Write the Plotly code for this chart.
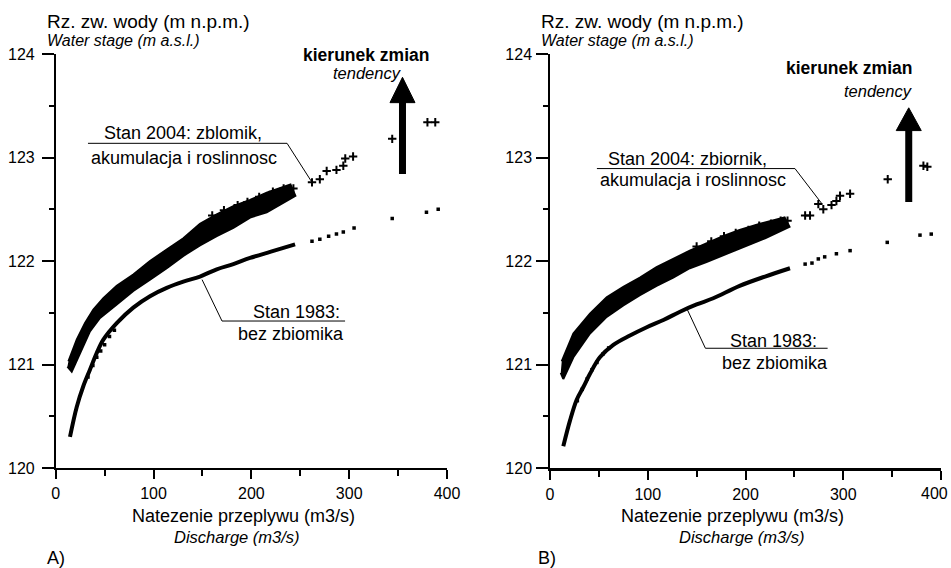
import plotly.graph_objects as go

# ---------------- DATA ----------------
# Panel A
a_band_up_q = [13, 21.5, 30, 38.5, 48.7, 62.4, 79.3, 96.4, 113.5, 130.5, 147.5, 164.6, 181.6, 198.7, 215.7, 240]
a_band_up_h = [121.03, 121.24, 121.40, 121.53, 121.64, 121.76, 121.87, 122.00, 122.11, 122.22, 122.36, 122.45, 122.53, 122.59, 122.66, 122.74]
a_band_lo_q = [12, 16.4, 24.8, 35, 45.3, 62.4, 79.3, 96.4, 113.5, 130.5, 147.5, 164.6, 181.6, 198.7, 215.7, 245]
a_band_lo_h = [120.98, 120.93, 121.11, 121.32, 121.45, 121.58, 121.71, 121.82, 121.93, 122.05, 122.15, 122.24, 122.32, 122.42, 122.47, 122.63]
a_2004_pts_q = [160, 172, 186, 196, 208, 222, 233, 243, 262, 270, 277, 287, 294, 296, 304, 344, 380, 388]
a_2004_pts_h = [122.44, 122.49, 122.54, 122.57, 122.62, 122.67, 122.70, 122.70, 122.76, 122.79, 122.87, 122.88, 122.92, 122.99, 123.01, 123.18, 123.34, 123.34]
a_1983_q = [14.6, 21.5, 28.2, 35, 41.9, 48.7, 62.4, 79.3, 96.4, 113.5, 130.5, 147.5, 164.6, 181.6, 198.7, 220, 244.7]
a_1983_h = [120.30, 120.59, 120.79, 120.95, 121.11, 121.24, 121.40, 121.55, 121.66, 121.74, 121.80, 121.85, 121.92, 121.97, 122.03, 122.09, 122.16]
a_1983_pts_q = [33, 38, 42, 46, 50, 55, 60, 262, 270, 279, 287, 294, 305, 344, 379, 391]
a_1983_pts_h = [120.88, 120.99, 121.07, 121.13, 121.19, 121.27, 121.33, 122.19, 122.21, 122.24, 122.26, 122.28, 122.32, 122.41, 122.47, 122.50]

# Panel B
b_band_up_q = [12, 23.9, 40.9, 58, 75, 92, 109, 126, 143, 160, 177, 194, 215, 240]
b_band_up_h = [121.03, 121.30, 121.49, 121.65, 121.75, 121.84, 121.94, 122.02, 122.10, 122.17, 122.24, 122.30, 122.36, 122.42]
b_band_lo_q = [11, 13.6, 23.9, 40.9, 58, 75, 92, 109, 126, 143, 160, 177, 194, 220, 245]
b_band_lo_h = [120.92, 120.86, 121.07, 121.30, 121.46, 121.57, 121.67, 121.76, 121.84, 121.93, 121.99, 122.05, 122.12, 122.22, 122.33]
b_2004_pts_q = [150, 165, 178, 190, 203, 214, 226, 236, 243, 261, 266, 274.5, 279.6, 288, 293, 296.7, 307, 345.5, 382, 386]
b_2004_pts_h = [122.14, 122.19, 122.24, 122.27, 122.30, 122.34, 122.36, 122.39, 122.39, 122.44, 122.44, 122.55, 122.50, 122.54, 122.58, 122.63, 122.65, 122.79, 122.92, 122.91]
b_1983_q = [13.6, 20.5, 27.3, 34, 40.9, 51, 64.8, 81.8, 99, 116, 133, 150, 167, 194, 220, 245.5]
b_1983_h = [120.21, 120.46, 120.66, 120.78, 120.91, 121.07, 121.19, 121.28, 121.36, 121.43, 121.51, 121.58, 121.64, 121.76, 121.85, 121.93]
b_1983_pts_q = [28, 33, 38, 43, 48, 54, 60, 261, 268, 274.5, 281, 293, 307, 345, 378.5, 390]
b_1983_pts_h = [120.65, 120.76, 120.86, 120.95, 121.02, 121.10, 121.16, 121.97, 121.98, 122.02, 122.04, 122.07, 122.10, 122.18, 122.25, 122.26]

x_ticks = [0, 100, 200, 300, 400]
x_tick_labels = ["0", "100", "200", "300", "400"]
y_ticks = [120, 121, 122, 123, 124]

FONT = "Liberation Sans, Arial, sans-serif"
W, H = 951, 568

fig = go.Figure()

def add_panel(xa, ya, up_q, up_h, lo_q, lo_h, p04q, p04h, q83, h83, p83q, p83h):
    poly_q = up_q + lo_q[::-1]
    poly_h = up_h + lo_h[::-1]
    fig.add_trace(go.Scatter(x=poly_q, y=poly_h, xaxis=xa, yaxis=ya, mode="lines",
                             fill="toself", fillcolor="black",
                             line=dict(color="black", width=2), hoverinfo="skip", showlegend=False))
    fig.add_trace(go.Scatter(x=p04q, y=p04h, xaxis=xa, yaxis=ya, mode="markers",
                             marker=dict(symbol="cross-thin", size=6, line=dict(color="black", width=2)),
                             showlegend=False))
    fig.add_trace(go.Scatter(x=q83, y=h83, xaxis=xa, yaxis=ya, mode="lines",
                             line=dict(color="black", width=4, shape="spline"), showlegend=False))
    fig.add_trace(go.Scatter(x=p83q, y=p83h, xaxis=xa, yaxis=ya, mode="markers",
                             marker=dict(symbol="square", size=3.5, color="black"),
                             showlegend=False))

add_panel("x", "y", a_band_up_q, a_band_up_h, a_band_lo_q, a_band_lo_h,
          a_2004_pts_q, a_2004_pts_h, a_1983_q, a_1983_h, a_1983_pts_q, a_1983_pts_h)
add_panel("x2", "y2", b_band_up_q, b_band_up_h, b_band_lo_q, b_band_lo_h,
          b_2004_pts_q, b_2004_pts_h, b_1983_q, b_1983_h, b_1983_pts_q, b_1983_pts_h)

def xax(domain, lw, anchor, labels):
    return dict(domain=domain, range=[0, 400], tickvals=x_ticks, ticktext=labels,
                ticks="outside", ticklen=9,
                tickwidth=1.5, tickcolor="black", showgrid=False, zeroline=False, anchor=anchor,
                showline=True, linecolor="black", linewidth=lw, automargin=False,
                ticklabeloverflow="allow",
                tickfont=dict(family=FONT, size=16, color="black"), ticklabelstandoff=1,
                minor=dict(dtick=50, ticks="outside", ticklen=6, tickwidth=1.5, tickcolor="black"))

def yax(domain, anchor, standoff):
    return dict(domain=domain, range=[120, 124], tickvals=y_ticks, ticks="outside", ticklen=12,
                tickwidth=1.5, tickcolor="black", showgrid=False, zeroline=False, anchor=anchor,
                showline=True, linecolor="black", linewidth=1.5, automargin=False,
                ticklabeloverflow="allow",
                tickfont=dict(family=FONT, size=16, color="black"), ticklabelstandoff=standoff,
                minor=dict(dtick=0.5, ticks="outside", ticklen=5, tickwidth=1.5, tickcolor="black"))

# right panel: last label is drawn as an annotation nudged left so it stays in the page
b_labels = x_tick_labels[:-1] + [""]

ydom = [(H - 468) / H, (H - 54) / H]
fig.update_layout(
    template="none",
    width=W, height=H, autosize=False,
    margin=dict(l=0, r=0, t=0, b=0, autoexpand=False),
    paper_bgcolor="white", plot_bgcolor="white",
    xaxis=xax([55.7 / W, 447 / W], 1.5, "y", x_tick_labels),
    yaxis=yax(ydom, "x", 4),
    xaxis2=xax([550 / W, 941 / W], 2.5, "y2", b_labels),
    yaxis2=yax(ydom, "x2", 1),
    showlegend=False,
)

anns = []
def ptxt(text, px, py, size=18, bold=False, italic=False, xanchor="center"):
    t = text
    if bold:
        t = "<b>" + t + "</b>"
    if italic:
        t = "<i>" + t + "</i>"
    anns.append(dict(text=t, x=px / W, y=1 - py / H, xref="paper", yref="paper",
                     xanchor=xanchor, yanchor="middle", showarrow=False,
                     font=dict(family=FONT, size=size, color="black")))

def dtxt(text, xr, yr, q, h, size=18):
    anns.append(dict(text=text, x=q, y=h, xref=xr, yref=yr, xanchor="center", yanchor="middle",
                     showarrow=False, font=dict(family=FONT, size=size, color="black")))

# last tick label of panel B
anns.append(dict(text=x_tick_labels[-1], x=x_ticks[-1], xref="x2", y=1 - 493 / H, yref="paper",
                 xanchor="center", yanchor="middle", xshift=-7, showarrow=False,
                 font=dict(family=FONT, size=16, color="black")))

# Panel A texts
ptxt("Rz. zw. wody (m n.p.m.)", 45, 21, size=19, xanchor="left")
ptxt("Water stage (m a.s.l.)", 45, 40, size=16, italic=True, xanchor="left")
ptxt("kierunek zmian", 366, 55, size=17.5, bold=True)
ptxt("tendency", 367, 73, size=16.5, italic=True)
ptxt("Natezenie przeplywu (m3/s)", 243, 516, size=18)
ptxt("Discharge (m3/s)", 237, 537, size=16.5, italic=True)
ptxt("A)", 45, 558, size=18, xanchor="left")
dtxt("Stan 2004: zblomik,", "x", "y", 130, 123.24)
dtxt("akumulacja i roslinnosc", "x", "y", 131, 123.00)
dtxt("Stan 1983:", "x", "y", 245.7, 121.51)
dtxt("bez zbiomika", "x", "y", 240.6, 121.29)

# Panel B texts
ptxt("Rz. zw. wody (m n.p.m.)", 539, 21, size=19, xanchor="left")
ptxt("Water stage (m a.s.l.)", 539, 40, size=16, italic=True, xanchor="left")
ptxt("kierunek zmian", 849, 68, size=17.5, bold=True)
ptxt("tendency", 878, 91, size=16.5, italic=True)
ptxt("Natezenie przeplywu (m3/s)", 732, 516, size=18)
ptxt("Discharge (m3/s)", 742, 537, size=16.5, italic=True)
ptxt("B)", 536, 558, size=18, xanchor="left")
dtxt("Stan 2004: zbiornik,", "x2", "y2", 141, 122.985)
dtxt("akumulacja i roslinnosc", "x2", "y2", 146, 122.78)
dtxt("Stan 1983:", "x2", "y2", 229, 121.23)
dtxt("bez zbiomika", "x2", "y2", 230, 121.01)

fig.update_layout(annotations=anns)

shapes = []
def seg(xr, yr, pts, w=1):
    for (x0, y0), (x1, y1) in zip(pts[:-1], pts[1:]):
        shapes.append(dict(type="line", xref=xr, yref=yr, x0=x0, y0=y0, x1=x1, y1=y1,
                           line=dict(color="black", width=w)))

# leader lines
seg("x", "y", [(33, 123.137), (236.5, 123.137), (262, 122.76)])
seg("x", "y", [(149.6, 121.82), (170, 121.42), (295.8, 121.42)])
seg("x2", "y2", [(48, 122.893), (250.6, 122.893), (278, 122.555)])
seg("x2", "y2", [(140, 121.54), (159, 121.157), (284, 121.157)])

def arrow(xr, yr, q, h_bottom, h_base, h_tip, half_w):
    shapes.append(dict(type="line", xref=xr, yref=yr, x0=q, y0=h_bottom, x1=q, y1=h_base + 0.02,
                       line=dict(color="black", width=7)))
    shapes.append(dict(type="path", xref=xr, yref=yr,
                       path=f"M {q - half_w},{h_base} L {q + half_w},{h_base} L {q},{h_tip} Z",
                       fillcolor="black", line=dict(color="black", width=1)))

arrow("x", "y", 354.5, 122.84, 123.53, 123.775, 12.8)
arrow("x2", "y2", 367, 122.57, 123.26, 123.48, 12.8)

fig.update_layout(shapes=shapes)

fig.write_html("out.html", config={"displayModeBar": False},
               post_script="document.body.style.margin='0';")
